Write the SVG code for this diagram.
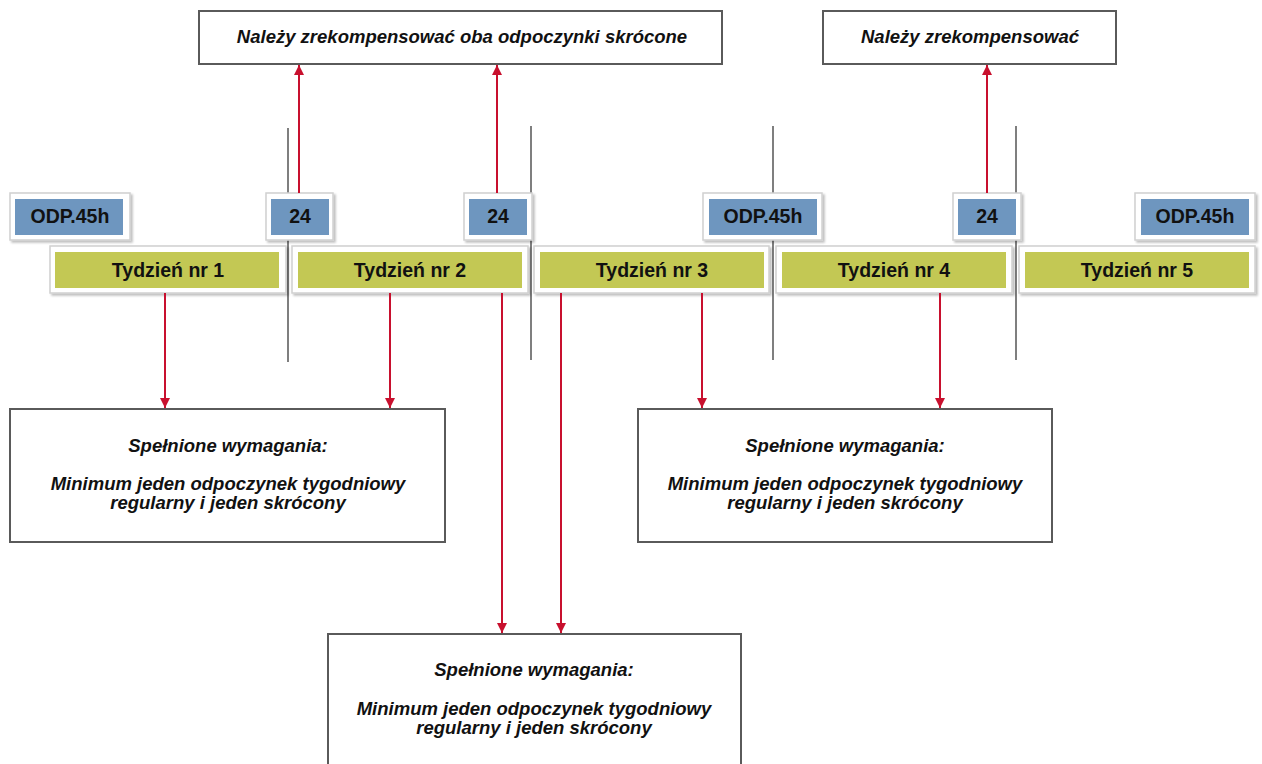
<svg xmlns="http://www.w3.org/2000/svg" width="1262" height="764" viewBox="0 0 1262 764">
<defs>
<marker id="ah" viewBox="0 0 10 10" refX="10" refY="5" markerWidth="10" markerHeight="10" markerUnits="userSpaceOnUse" orient="auto">
<path d="M0,0 L10,5 L0,10 Z" fill="#c8102e"/>
</marker>
<filter id="sh" x="-10%" y="-10%" width="120%" height="130%">
<feDropShadow dx="2" dy="2" stdDeviation="1" flood-color="#000" flood-opacity="0.25"/>
</filter>
</defs>
<style>
.frame{fill:#fff;stroke:#d0d0d0;stroke-width:1.5;filter:url(#sh)}
.blue{fill:#6e96bf}
.green{fill:#c3c854}
.box{fill:#fff;stroke:#5a5a5a;stroke-width:2}
.sep{stroke:#7f7f7f;stroke-width:2}
.arr{stroke:#c8102e;stroke-width:2;fill:none;marker-end:url(#ah)}
.lbl{font-family:"Liberation Sans",Arial,sans-serif;font-weight:bold;font-size:19.5px;fill:#111;text-anchor:middle}
.it{font-family:"Liberation Sans",Arial,sans-serif;font-weight:bold;font-style:italic;font-size:18.5px;fill:#111;text-anchor:middle}
</style>
<rect width="1262" height="764" fill="#fff"/>
<g id="separators">
<line class="sep" x1="288" y1="128" x2="288" y2="362"/>
<line class="sep" x1="531" y1="126" x2="531" y2="360"/>
<line class="sep" x1="773" y1="126" x2="773" y2="360"/>
<line class="sep" x1="1016" y1="126" x2="1016" y2="360"/>
</g>
<g id="top1"><rect class="box" x="199" y="11" width="523" height="53"/><text class="it" x="462" y="43">Należy zrekompensować oba odpoczynki skrócone</text></g>
<g id="top2"><rect class="box" x="823" y="11" width="293" height="53"/><text class="it" x="970" y="43">Należy zrekompensować</text></g>
<g id="odp1"><rect class="frame" x="10" y="193" width="120" height="47"/><rect class="blue" x="15" y="199" width="108" height="36"/><text class="lbl" x="70" y="223">ODP.45h</text></g>
<g id="r24a"><rect class="frame" x="266" y="193" width="67" height="47"/><rect class="blue" x="271" y="199" width="58" height="36"/><text class="lbl" x="300" y="223">24</text></g>
<g id="r24b"><rect class="frame" x="464" y="193" width="68" height="47"/><rect class="blue" x="469" y="199" width="58" height="36"/><text class="lbl" x="498" y="223">24</text></g>
<g id="odp2"><rect class="frame" x="703" y="193" width="119" height="47"/><rect class="blue" x="709" y="199" width="108" height="36"/><text class="lbl" x="763" y="223">ODP.45h</text></g>
<g id="r24c"><rect class="frame" x="953" y="193" width="68" height="47"/><rect class="blue" x="958" y="199" width="58" height="36"/><text class="lbl" x="987" y="223">24</text></g>
<g id="odp3"><rect class="frame" x="1135" y="193" width="120" height="47"/><rect class="blue" x="1141" y="199" width="108" height="36"/><text class="lbl" x="1195" y="223">ODP.45h</text></g>
<g id="w1"><rect class="frame" x="50" y="246" width="236" height="47"/><rect class="green" x="55" y="252" width="224" height="36"/><text class="lbl" x="168" y="277">Tydzień nr 1</text></g>
<g id="w2"><rect class="frame" x="292" y="246" width="236" height="47"/><rect class="green" x="298" y="252" width="224" height="36"/><text class="lbl" x="410" y="277">Tydzień nr 2</text></g>
<g id="w3"><rect class="frame" x="534" y="246" width="235" height="47"/><rect class="green" x="540" y="252" width="224" height="36"/><text class="lbl" x="652" y="277">Tydzień nr 3</text></g>
<g id="w4"><rect class="frame" x="776" y="246" width="236" height="47"/><rect class="green" x="782" y="252" width="224" height="36"/><text class="lbl" x="894" y="277">Tydzień nr 4</text></g>
<g id="w5"><rect class="frame" x="1019" y="246" width="236" height="47"/><rect class="green" x="1025" y="252" width="224" height="36"/><text class="lbl" x="1137" y="277">Tydzień nr 5</text></g>
<g id="req1"><rect class="box" x="10" y="409" width="435" height="133"/>
<text class="it" x="228" y="452">Spełnione wymagania:</text>
<text class="it" x="228" y="490">Minimum jeden odpoczynek tygodniowy</text>
<text class="it" x="228" y="509">regularny i jeden skrócony</text></g>
<g id="req2"><rect class="box" x="638" y="409" width="414" height="133"/>
<text class="it" x="845" y="452">Spełnione wymagania:</text>
<text class="it" x="845" y="490">Minimum jeden odpoczynek tygodniowy</text>
<text class="it" x="845" y="509">regularny i jeden skrócony</text></g>
<g id="req3"><rect class="box" x="328" y="634" width="413" height="140"/>
<text class="it" x="534" y="676">Spełnione wymagania:</text>
<text class="it" x="534" y="715">Minimum jeden odpoczynek tygodniowy</text>
<text class="it" x="534" y="734">regularny i jeden skrócony</text></g>
<g id="connectors">
<line class="arr" x1="299" y1="193" x2="299" y2="65"/>
<line class="arr" x1="497" y1="193" x2="497" y2="65"/>
<line class="arr" x1="987" y1="193" x2="987" y2="65"/>
<line class="arr" x1="165" y1="293" x2="165" y2="408"/>
<line class="arr" x1="390" y1="293" x2="390" y2="408"/>
<line class="arr" x1="502" y1="293" x2="502" y2="633"/>
<line class="arr" x1="561" y1="293" x2="561" y2="633"/>
<line class="arr" x1="702" y1="293" x2="702" y2="408"/>
<line class="arr" x1="940" y1="293" x2="940" y2="408"/>
</g>
</svg>
